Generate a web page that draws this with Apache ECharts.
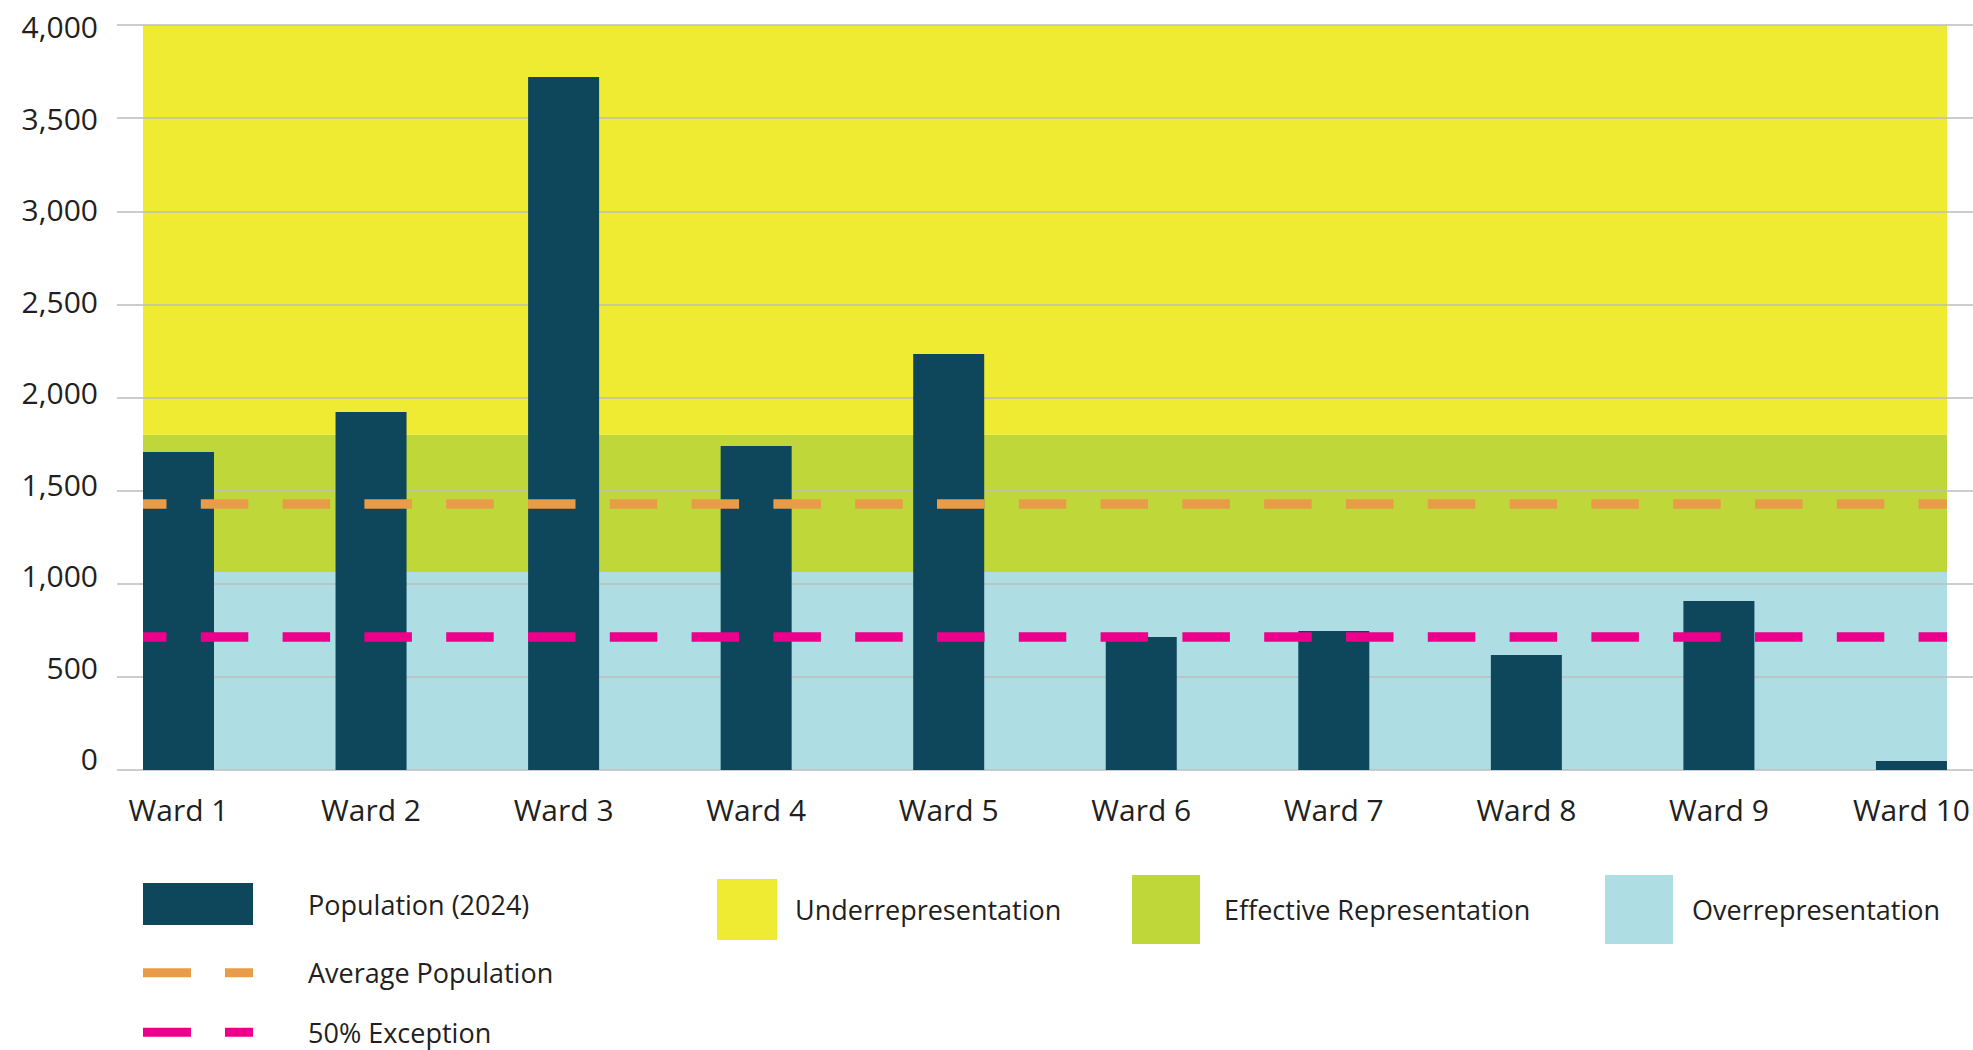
<!DOCTYPE html>
<html>
<head>
<meta charset="utf-8">
<script src="https://cdn.jsdelivr.net/npm/echarts@6/dist/echarts.min.js"></script>
<style>
html,body{margin:0;padding:0;background:#fff;}
#chart{width:1973px;height:1050px;}
</style>
</head>
<body>
<div id="chart"></div>
<script>
// ---- data ----
const categories = ['Ward 1','Ward 2','Ward 3','Ward 4','Ward 5','Ward 6','Ward 7','Ward 8','Ward 9','Ward 10'];
const population = [1707, 1922, 3721, 1740, 2234, 714, 746, 617, 907, 48];
const avgPopulation = 1428;
const exception50 = 714;
const bandNames = ['Overrepresentation', 'Effective Representation', 'Underrepresentation'];
const bandEdges = [0, 1063, 1800, 4000];
const yMin = 0, yMax = 4000, yStep = 500;

// ---- style ----
const FONT = '"Open Sans", "Noto Sans", sans-serif';
const TXT = '#231f20';
const GRID = '#bdbdbd';
const C_BAR = '#0e465c';
const C_BAND = ['#aedde3', '#c0d73a', '#efeb33'];
const C_AVG = '#e89c47';
const C_EXC = '#ec008b';
const DASH_ICON = 'path://M0,0H48V9H0Z M82,0H110V9H82Z';

const chart = echarts.init(document.getElementById('chart'), null, {renderer: 'svg'});

const bandSeries = bandNames.map((n, i) => ({
  name: n, type: 'bar', stack: 'bands', xAxisIndex: 0, yAxisIndex: 0,
  barWidth: '100%', z: 0, silent: true,
  itemStyle: {color: C_BAND[i]},
  data: [bandEdges[i + 1] - bandEdges[i]]
}));

function dashLine(name, value, color) {
  return {
    name: name, type: 'line', xAxisIndex: 0, yAxisIndex: 0, z: 4,
    symbol: 'none', data: [],
    lineStyle: {color: color, width: 9},
    itemStyle: {color: color},
    markLine: {
      silent: true, symbol: 'none', z: 6,
      label: {show: false},
      lineStyle: {color: color, width: 9.5, type: [47.5, 34.3], dashOffset: 24, opacity: 1},
      data: [{yAxis: value}]
    }
  };
}

// shift: vertical text shift in px (positive = down)
function legendBox(name, left, top, w, h, textLeftGap, shift, icon) {
  const pad = shift >= 0 ? [2 * shift, 0, 0, textLeftGap] : [0, 0, -2 * shift, textLeftGap];
  return {
    data: [name], left: left, top: top, padding: 0, itemWidth: w, itemHeight: h,
    icon: icon, selectedMode: false, orient: 'vertical',
    textStyle: {fontFamily: FONT, fontSize: 27, color: TXT, padding: pad}
  };
}

const option = {
  animation: false,
  backgroundColor: '#fff',
  grid: [
    {left: 143, top: 25, width: 1804, height: 745},
    {left: 178.5, top: 25, width: 1733, height: 745},
    {left: 143, top: 26.5, width: 1804, height: 732}
  ],
  xAxis: [
    {type: 'category', gridIndex: 0, data: ['bands'], show: false},
    {type: 'category', gridIndex: 1, data: categories, boundaryGap: false,
     axisLine: {show: false}, axisTick: {show: false}, splitLine: {show: false},
     axisLabel: {fontFamily: FONT, fontSize: 30, color: TXT, margin: 24.5, interval: 0}},
    {type: 'category', gridIndex: 2, data: ['x'], show: false}
  ],
  yAxis: [
    {type: 'value', gridIndex: 0, min: yMin, max: yMax, interval: yStep, z: 1,
     axisLine: {show: false},
     axisTick: {show: true, length: 26, inside: false, lineStyle: {color: GRID, width: 1.5}},
     axisLabel: {show: false},
     splitLine: {show: true, lineStyle: {color: GRID, width: 1.5}}},
    {type: 'value', gridIndex: 0, position: 'right', min: yMin, max: yMax, interval: yStep, z: 1,
     axisLine: {show: false},
     axisTick: {show: true, length: 26, inside: false, lineStyle: {color: GRID, width: 1.5}},
     axisLabel: {show: false}, splitLine: {show: false}},
    {type: 'value', gridIndex: 1, min: yMin, max: yMax, interval: yStep, show: false},
    {type: 'value', gridIndex: 2, min: yMin, max: yMax, interval: yStep,
     axisLine: {show: false}, axisTick: {show: false}, splitLine: {show: false},
     axisLabel: {fontFamily: FONT, fontSize: 30, color: TXT, margin: 45,
       formatter: v => v.toLocaleString('en-US')}}
  ],
  legend: [
    legendBox('Population (2024)', 143, 883, 110, 42, 50, 4.5, 'rect'),
    legendBox('Average Population', 143, 959.3, 110, 9, 50, 0, DASH_ICON),
    legendBox('50% Exception', 143, 1018.7, 110, 9, 50, -4, DASH_ICON),
    legendBox('Underrepresentation', 717, 879, 60, 61, 13, -2.5, 'rect'),
    legendBox('Effective Representation', 1132, 875, 68, 69, 19, -2.5, 'rect'),
    legendBox('Overrepresentation', 1605, 875, 68, 69, 14, 0, 'rect')
  ],
  series: [
    ...bandSeries,
    {name: 'Population (2024)', type: 'bar', xAxisIndex: 1, yAxisIndex: 2, z: 2,
     clip: false, barWidth: 71, itemStyle: {color: C_BAR}, data: population},
    dashLine('Average Population', avgPopulation, C_AVG),
    dashLine('50% Exception', exception50, C_EXC)
  ]
};
chart.setOption(option);
</script>
</body>
</html>
